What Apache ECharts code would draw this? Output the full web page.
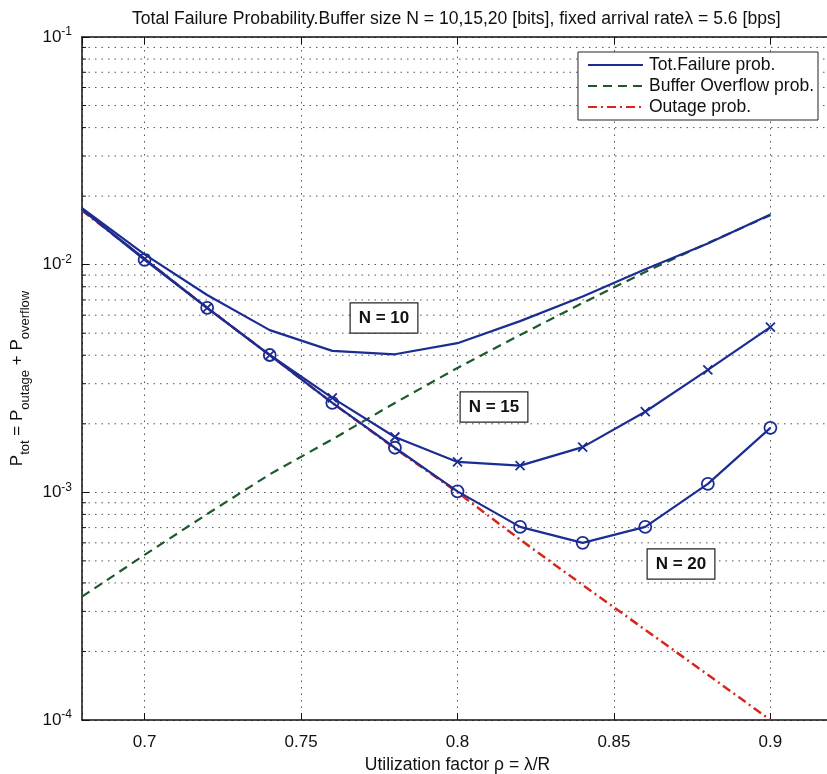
<!DOCTYPE html>
<html lang="en">

<head>
  <meta charset="UTF-8">
  <title>Total Failure Probability</title>
  <style>
    html, body { margin: 0; padding: 0; background: #fff; }
    .d1 { width: 827px; height: 774px; }
  </style>
</head>

<body>
  <div class="d1" id="main"></div>
  <script src="https://cdn.jsdelivr.net/npm/echarts@6/dist/echarts.min.js"></script>
  <script>
    // utilization factor rho
    var rho = [0.68, 0.70, 0.72, 0.74, 0.76, 0.78, 0.80, 0.82, 0.84, 0.86, 0.88, 0.90];
    // total failure probability for N = 10, 15, 20
    var totN10 = [0.0177, 0.0111, 0.00736, 0.00516, 0.00418, 0.00404, 0.00452, 0.00565, 0.00725, 0.00955, 0.0124, 0.0166];
    var totN15 = [0.0175, 0.0106, 0.00646, 0.00401, 0.0026, 0.00175, 0.00136, 0.00131, 0.00158, 0.00226, 0.00345, 0.00532];
    var totN20 = [0.0175, 0.0105, 0.00646, 0.00401, 0.00247, 0.00157, 0.00101, 0.000705, 0.0006, 0.000705, 0.00109, 0.00192];
    var overflow = [0.000348, 0.000531, 0.000803, 0.0012, 0.00171, 0.00247, 0.00352, 0.00491, 0.00679, 0.00929, 0.01245, 0.0165];
    var outage = [0.0173, 0.0106, 0.00646, 0.00401, 0.00247, 0.00156, 0.001, 0.00062, 0.000392, 0.000249, 0.000158, 0.0001];
    // dotted minor grid lines on the log axis (2..9 x 10^k)
    var minorGrid = [];
    [1e-4, 1e-3, 1e-2].forEach(function (d) {
      for (var k = 2; k <= 9; k++) minorGrid.push(d * k);
    });

    var blue = '#1b2d93';
    var green = '#1c5a2c';
    var red = '#d8261c';
    var font = 'Liberation Sans';
    var dots = { type: [1.5, 5], color: '#555', width: 1 };

    function pairs(ys) {
      return rho.map(function (x, i) {
        var p = { value: [x, ys[i]] };
        if (i === 0) p.symbol = 'none';
        return p;
      });
    }

    // horizontal dotted line across the plot, plus a short inner tick
    function renderMinor(params, api) {
      var cs = params.coordSys;
      var y = api.coord([api.value(0), api.value(1)])[1];
      return {
        type: 'group',
        children: [{
          type: 'line',
          shape: { x1: cs.x, y1: y, x2: cs.x + cs.width, y2: y },
          style: { stroke: dots.color, lineWidth: 1, lineDash: dots.type }
        }, {
          type: 'line',
          shape: { x1: cs.x, y1: y, x2: cs.x + 4, y2: y },
          style: { stroke: '#111', lineWidth: 1 }
        }]
      };
    }

    var myChart = echarts.init(document.getElementById('main'));
    var option = {
      animation: false,
      textStyle: { fontFamily: font, color: '#000' },
      title: {
        text: 'Total Failure Probability.Buffer size N = 10,15,20 [bits], fixed arrival rateλ = 5.6 [bps]',
        left: 127,
        top: 5,
        textStyle: { fontFamily: font, fontSize: 17.6, fontWeight: 'normal', color: '#111' }
      },
      grid: { left: 82, right: -6, top: 37, bottom: 54, outerBoundsMode: 'none' },
      legend: {
        orient: 'vertical',
        right: 9,
        top: 52,
        padding: [4, 4, 4, 9],
        itemGap: 3,
        itemWidth: 55,
        itemHeight: 20,
        borderColor: '#222',
        borderWidth: 1,
        backgroundColor: '#fff',
        itemStyle: { opacity: 0 },
        z: 20,
        textStyle: { fontFamily: font, fontSize: 17.5, color: '#111', padding: [0, 0, 0, 1] },
        data: ['Tot.Failure prob.', 'Buffer Overflow prob.', 'Outage prob.']
      },
      xAxis: [{
        type: 'value',
        min: 0.68,
        max: 0.92,
        splitNumber: 5,
        name: 'Utilization factor ρ = λ/R',
        nameLocation: 'middle',
        nameGap: 35,
        nameTextStyle: { fontFamily: font, fontSize: 17.5, color: '#111' },
        axisLine: { onZero: false, lineStyle: { color: '#111', width: 1.5 } },
        axisTick: { inside: true, length: 7, lineStyle: { color: '#111' } },
        axisLabel: { showMinLabel: false, showMaxLabel: false, fontSize: 17, color: '#111', margin: 14 },
        splitLine: { show: true, lineStyle: dots }
      }, {
        type: 'value',
        position: 'top',
        min: 0.68,
        max: 0.92,
        splitNumber: 5,
        axisLine: { lineStyle: { color: '#111', width: 1.5 } },
        axisTick: { inside: true, length: 7, lineStyle: { color: '#111' } },
        axisLabel: { show: false },
        splitLine: { show: false }
      }],
      yAxis: {
        type: 'log',
        logBase: 10,
        min: 1e-4,
        max: 1e-1,
        name: 'P{sub|tot} = P{sub|outage} + P{sub|overflow}',
        nameLocation: 'middle',
        nameRotate: 90,
        nameGap: 49,
        nameTextStyle: {
          fontFamily: font, fontSize: 17, color: '#111', lineHeight: 28,
          rich: { sub: { fontFamily: font, fontSize: 13, lineHeight: 14, verticalAlign: 'bottom', color: '#111' } }
        },
        axisLine: { lineStyle: { color: '#111', width: 1.5 } },
        axisTick: { inside: true, length: 7, lineStyle: { color: '#111' } },
        axisLabel: {
          fontSize: 17,
          color: '#111',
          lineHeight: 22,
          margin: 10,
          formatter: function (v) {
            return '10{sup|' + Math.round(Math.log10(v)) + '}';
          },
          rich: { sup: { fontSize: 12, lineHeight: 12, verticalAlign: 'top', color: '#111' } }
        },
        splitLine: { show: true, lineStyle: dots }
      },
      series: [{
        type: 'custom',
        name: 'minor grid',
        silent: true,
        renderItem: renderMinor,
        data: minorGrid.map(function (v) { return [rho[0], v]; }),
        z: 1
      }, {
        type: 'line',
        name: 'Outage prob.',
        data: pairs(outage),
        symbol: 'none',
        lineStyle: { color: red, width: 2.5, type: [9, 4, 2, 4] },
        itemStyle: { color: red },
        z: 3
      }, {
        type: 'line',
        name: 'Buffer Overflow prob.',
        data: pairs(overflow),
        symbol: 'none',
        lineStyle: { color: green, width: 2.2, type: [9, 6] },
        itemStyle: { color: green },
        z: 4
      }, {
        type: 'line',
        name: 'Tot.Failure prob.',
        data: pairs(totN10),
        symbol: 'none',
        lineStyle: { color: blue, width: 2.2 },
        itemStyle: { color: blue },
        z: 5
      }, {
        type: 'line',
        name: 'N15',
        data: pairs(totN15),
        symbol: 'path://M0,0L10,10M0,10L10,0',
        symbolSize: 9,
        lineStyle: { color: blue, width: 2.2 },
        itemStyle: { color: 'rgba(0,0,0,0)', borderColor: blue, borderWidth: 1.8 },
        z: 5
      }, {
        type: 'line',
        name: 'N20',
        data: pairs(totN20),
        symbol: 'circle',
        symbolSize: 12,
        lineStyle: { color: blue, width: 2.2 },
        itemStyle: { color: 'rgba(0,0,0,0)', borderColor: blue, borderWidth: 1.8 },
        z: 5
      }],
      graphic: [
        { text: 'N = 10', cx: 384, cy: 318 },
        { text: 'N = 15', cx: 494, cy: 407 },
        { text: 'N = 20', cx: 681, cy: 564 }
      ].map(function (b) {
        return {
          type: 'text',
          x: b.cx,
          y: b.cy,
          z: 10,
          style: {
            text: b.text,
            align: 'center',
            verticalAlign: 'middle',
            font: 'bold 17px ' + font,
            fill: '#111',
            backgroundColor: '#fff',
            borderColor: '#222',
            borderWidth: 1.2,
            padding: [6, 8, 6, 8]
          }
        };
      })
    };

    option && myChart.setOption(option);
  </script>
</body>

</html>
